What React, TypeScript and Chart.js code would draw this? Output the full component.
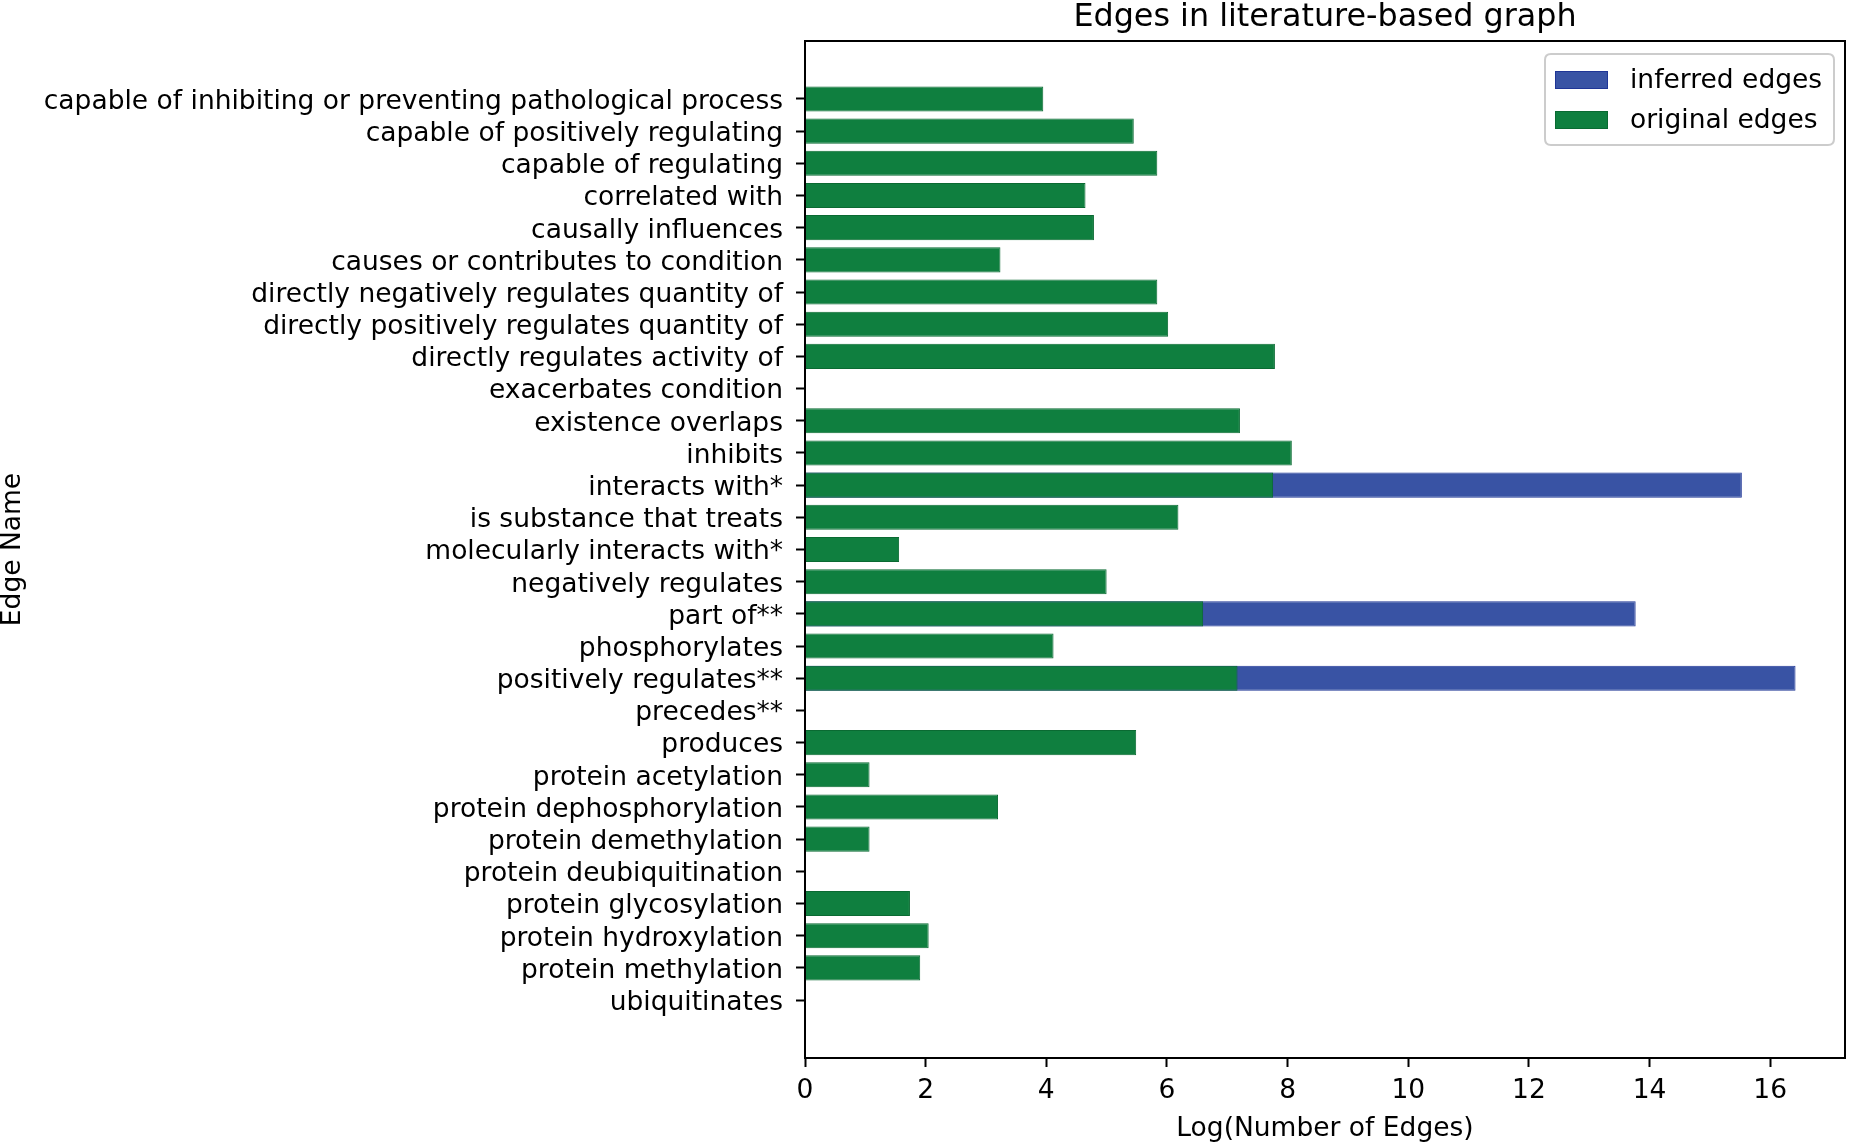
import React, { useEffect, useRef } from "react";
import { Chart, registerables } from "chart.js";

Chart.register(...registerables);

const chartTitle = "Edges in literature-based graph";
const xAxisTitle = "Log(Number of Edges)";
const yAxisTitle = "Edge Name";

const categories = [
  "capable of inhibiting or preventing pathological process",
  "capable of positively regulating",
  "capable of regulating",
  "correlated with",
  "causally influences",
  "causes or contributes to condition",
  "directly negatively regulates quantity of",
  "directly positively regulates quantity of",
  "directly regulates activity of",
  "exacerbates condition",
  "existence overlaps",
  "inhibits",
  "interacts with*",
  "is substance that treats",
  "molecularly interacts with*",
  "negatively regulates",
  "part of**",
  "phosphorylates",
  "positively regulates**",
  "precedes**",
  "produces",
  "protein acetylation",
  "protein dephosphorylation",
  "protein demethylation",
  "protein deubiquitination",
  "protein glycosylation",
  "protein hydroxylation",
  "protein methylation",
  "ubiquitinates",
];

// log(number of original edges)
const originalEdges = [
  3.95, 5.45, 5.84, 4.65, 4.79, 3.24, 5.84, 6.02, 7.79, 0, 7.21, 8.07, 7.76, 6.19,
  1.56, 5.0, 6.6, 4.12, 7.17, 0, 5.49, 1.07, 3.2, 1.07, 0, 1.74, 2.05, 1.91, 0,
];

// log(number of edges including inferred ones)
const inferredEdges: (number | null)[] = [
  null, null, null, null, null, null, null, null, null, null, null, null, 15.53, null,
  null, null, 13.77, null, 16.42, null, null, null, null, null, null, null, null, null, null,
];

const xTickValues = [0, 2, 4, 6, 8, 10, 12, 14, 16];
const legendLabels = ["inferred edges", "original edges"];

const FONT = "DejaVu Sans";
const GREEN = "#0f7f3f";
const GREEN_EDGE = "#0a6a32";
const BLUE = "#3953a4";
const BLUE_EDGE = "#1f3596";

export default function App() {
  const ref = useRef<HTMLCanvasElement>(null);

  useEffect(() => {
    const canvas = ref.current;
    if (!canvas) return;

    const framePlugin = {
      id: "frame",
      afterDraw(chart: any) {
        const { ctx, chartArea } = chart;
        const { left, right, top, bottom } = chartArea;
        ctx.save();
        // axes box
        ctx.strokeStyle = "#000";
        ctx.lineWidth = 2;
        ctx.strokeRect(left, top, right - left, bottom - top);
        // title
        ctx.fillStyle = "#000";
        ctx.font = `31.8px "${FONT}"`;
        ctx.textAlign = "center";
        ctx.textBaseline = "alphabetic";
        ctx.fillText(chartTitle, (left + right) / 2, 26);
        // legend
        const bx = right - 300;
        const by = top + 13;
        const bw = 289;
        const bh = 91;
        const r = 6;
        ctx.beginPath();
        ctx.moveTo(bx + r, by);
        ctx.lineTo(bx + bw - r, by);
        ctx.quadraticCurveTo(bx + bw, by, bx + bw, by + r);
        ctx.lineTo(bx + bw, by + bh - r);
        ctx.quadraticCurveTo(bx + bw, by + bh, bx + bw - r, by + bh);
        ctx.lineTo(bx + r, by + bh);
        ctx.quadraticCurveTo(bx, by + bh, bx, by + bh - r);
        ctx.lineTo(bx, by + r);
        ctx.quadraticCurveTo(bx, by, bx + r, by);
        ctx.closePath();
        ctx.fillStyle = "rgba(255,255,255,0.8)";
        ctx.fill();
        ctx.strokeStyle = "#cccccc";
        ctx.lineWidth = 2;
        ctx.stroke();
        const items = [
          { label: legendLabels[0], fill: BLUE, edge: BLUE_EDGE },
          { label: legendLabels[1], fill: GREEN, edge: GREEN_EDGE },
        ];
        items.forEach((it, i) => {
          const sy = by + 17 + i * 40;
          ctx.fillStyle = it.fill;
          ctx.fillRect(bx + 10, sy, 53, 18);
          ctx.strokeStyle = it.edge;
          ctx.lineWidth = 1;
          ctx.strokeRect(bx + 10.5, sy + 0.5, 52, 17);
          ctx.fillStyle = "#000";
          ctx.font = `26.5px "${FONT}"`;
          ctx.textAlign = "left";
          ctx.textBaseline = "middle";
          ctx.fillText(it.label, bx + 85, sy + 10);
        });
        ctx.restore();
      },
    };

    const chart = new Chart(canvas, {
      type: "bar",
      data: {
        datasets: [
          {
            label: legendLabels[1],
            data: originalEdges.map((v, i) => ({ x: v, y: i })),
            backgroundColor: GREEN,
            borderColor: GREEN_EDGE,
            borderWidth: 1,
            order: 0,
          },
          {
            label: legendLabels[0],
            data: inferredEdges.map((v, i) => ({ x: v, y: i })),
            backgroundColor: BLUE,
            borderColor: BLUE_EDGE,
            borderWidth: 1,
            order: 1,
          },
        ],
      },
      plugins: [framePlugin],
      options: {
        indexAxis: "y",
        responsive: false,
        animation: false,
        devicePixelRatio: 1,
        layout: { padding: { top: 41, right: 4, bottom: 0, left: 0 } },
        datasets: {
          bar: {
            grouped: false,
            categoryPercentage: 1,
            barPercentage: 0.78,
            borderSkipped: "start",
          },
        },
        plugins: {
          legend: { display: false },
          title: { display: false },
          tooltip: { enabled: false },
        },
        scales: {
          x: {
            type: "linear",
            min: 0,
            max: 17.24,
            offset: false,
            afterBuildTicks: (scale: any) => {
              scale.ticks = xTickValues.map((v) => ({ value: v }));
            },
            afterFit: (scale: any) => {
              scale.height = 86;
            },
            ticks: {
              color: "#000",
              font: { family: FONT, size: 26.5 },
              padding: 8,
              maxRotation: 0,
              autoSkip: false,
            },
            grid: {
              offset: false,
              drawOnChartArea: false,
              drawTicks: true,
              tickLength: 9,
              tickColor: "#000",
              tickWidth: 2,
            },
            border: { display: false },
            title: {
              display: true,
              text: xAxisTitle,
              color: "#000",
              font: { family: FONT, size: 26.5, lineHeight: 1.15 },
              padding: 0,
            },
          },
          y: {
            type: "linear",
            reverse: true,
            min: -1.8,
            max: 29.8,
            offset: false,
            afterBuildTicks: (scale: any) => {
              scale.ticks = categories.map((_, i) => ({ value: i }));
            },
            afterFit: (scale: any) => {
              scale.width = 805;
            },
            ticks: {
              color: "#000",
              font: { family: FONT, size: 26.5 },
              padding: 13,
              labelOffset: 3,
              autoSkip: false,
              callback: (v: any) => categories[v] ?? "",
            },
            grid: {
              offset: false,
              drawOnChartArea: false,
              drawTicks: true,
              tickLength: 9,
              tickColor: "#000",
              tickWidth: 2,
            },
            border: { display: false },
            title: {
              display: true,
              text: yAxisTitle,
              color: "#000",
              font: { family: FONT, size: 26.5, lineHeight: 1.0 },
              padding: 0,
            },
          },
        },
      },
    } as any);

    return () => chart.destroy();
  }, []);

  return (
    <div style={{ position: "absolute", left: 0, top: 0, width: 1849, height: 1144 }}>
      <canvas ref={ref} width={1849} height={1144} style={{ display: "block" }} />
    </div>
  );
}
